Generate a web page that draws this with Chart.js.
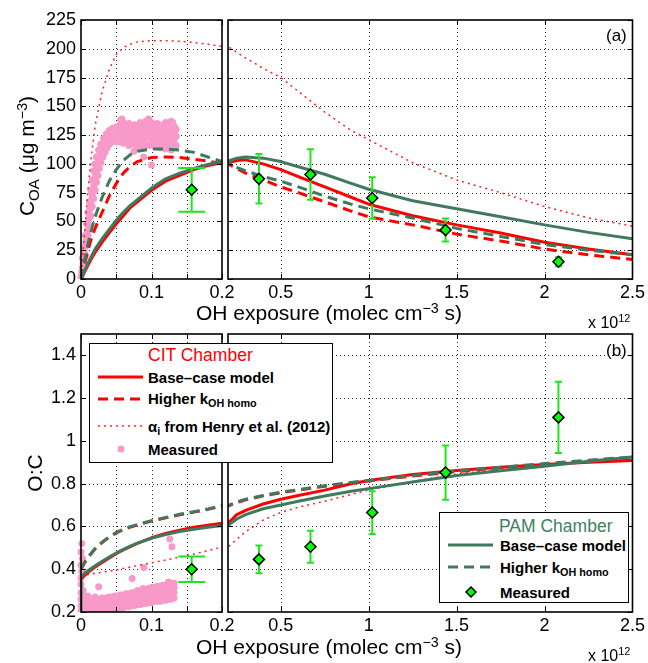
<!DOCTYPE html>
<html>
<head>
<meta charset="utf-8">
<script src="https://cdn.jsdelivr.net/npm/chart.js@4.4.0/dist/chart.umd.min.js"></script>
<style>
  html, body { margin: 0; padding: 0; background: #fff; }
  #fig { position: relative; width: 648px; height: 663px; overflow: hidden;
         font-family: 'Liberation Sans', Arial, Helvetica, sans-serif; color: #000; }
  #fig canvas { position: absolute; left: 0; top: 0; }
  .t { position: absolute; white-space: nowrap; line-height: 1; }
  .lg { position: absolute; background: #fff; border: 1.5px solid #000; box-sizing: border-box; }
  .b { font-weight: bold; font-size: 15px; }
  .lt { font-size: 17.5px; }
  .sb { font-size: 0.72em; position: relative; top: 0.32em; }
  .sp { font-size: 0.68em; position: relative; top: -0.5em; }
  svg.s { position: absolute; overflow: visible; }
</style>
</head>
<body>
<div id="fig">
  <canvas id="aLeft" width="648" height="663"></canvas>
  <canvas id="aRight" width="648" height="663"></canvas>
  <canvas id="bLeft" width="648" height="663"></canvas>
  <canvas id="bRight" width="648" height="663"></canvas>

  <!-- axis titles -->
  <div class="t" style="font-size:21px;left:25.5px;top:156px;transform:translate(-50%,-50%) rotate(-90deg);">C<span class="sb">OA</span> (&mu;g m<span class="sp">&minus;3</span>)</div>
  <div class="t" style="font-size:21px;left:33.5px;top:473px;transform:translate(-50%,-50%) rotate(-90deg);">O:C</div>
  <div class="t" style="font-size:21px;left:329px;top:302px;transform:translateX(-50%);">OH exposure (molec cm<span class="sp">&minus;3</span> s)</div>
  <div class="t" style="font-size:21px;left:329px;top:636px;transform:translateX(-50%);">OH exposure (molec cm<span class="sp">&minus;3</span> s)</div>
  <div class="t" style="font-size:16px;left:588px;top:314.5px;">x 10<span class="sp">12</span></div>
  <div class="t" style="font-size:16px;left:588px;top:647.5px;">x 10<span class="sp">12</span></div>
  <div class="t" style="font-size:17px;left:606px;top:27px;">(a)</div>
  <div class="t" style="font-size:17px;left:606px;top:342px;">(b)</div>

  <!-- CIT chamber legend -->
  <div class="lg" style="left:89px;top:343px;width:244px;height:120px;"></div>
  <div class="t lt" style="left:148px;top:346.5px;color:#ff0000;">CIT Chamber</div>
  <svg class="s" style="left:98px;top:372px" width="45" height="10"><line x1="0" y1="5" x2="45" y2="5" stroke="#ff0000" stroke-width="3"/></svg>
  <svg class="s" style="left:98px;top:394px" width="45" height="10"><line x1="0" y1="5" x2="45" y2="5" stroke="#ff0000" stroke-width="3" stroke-dasharray="10 6"/></svg>
  <svg class="s" style="left:98px;top:421px" width="45" height="10"><line x1="0" y1="5" x2="45" y2="5" stroke="#ff2020" stroke-width="1.5" stroke-dasharray="2 4"/></svg>
  <svg class="s" style="left:116px;top:444px" width="10" height="10"><circle cx="5" cy="5" r="3.5" fill="#f799c9"/></svg>
  <div class="t b" style="left:148px;top:369.7px;">Base&ndash;case model</div>
  <div class="t b" style="left:148px;top:390.7px;">Higher k<span class="sb">OH homo</span></div>
  <div class="t b" style="left:148px;top:418.7px;">&alpha;<span class="sb">i</span> from Henry et al. (2012)</div>
  <div class="t b" style="left:148px;top:441.7px;">Measured</div>

  <!-- PAM chamber legend -->
  <div class="lg" style="left:439px;top:512px;width:190px;height:91px;"></div>
  <div class="t lt" style="left:499px;top:517.5px;color:#3f7f62;">PAM Chamber</div>
  <svg class="s" style="left:448px;top:540px" width="45" height="10"><line x1="0" y1="5" x2="45" y2="5" stroke="#3f7a5f" stroke-width="3"/></svg>
  <svg class="s" style="left:448px;top:562px" width="45" height="10"><line x1="0" y1="5" x2="45" y2="5" stroke="#3f7a5f" stroke-width="3" stroke-dasharray="10 6"/></svg>
  <svg class="s" style="left:465px;top:586px" width="12" height="12"><polygon points="6,1 11,6 6,11 1,6" fill="#00ff00" stroke="#000" stroke-width="1.5"/></svg>
  <div class="t b" style="left:500px;top:537.7px;">Base&ndash;case model</div>
  <div class="t b" style="left:500px;top:559.7px;">Higher k<span class="sb">OH homo</span></div>
  <div class="t b" style="left:500px;top:584.7px;">Measured</div>
</div>

<script>
// OH exposure grid of the model runs, in units of 1e12 molec cm^-3 s
const ohGrid = [0, 0, 0.005, 0.01, 0.015, 0.02, 0.03, 0.04, 0.05, 0.06, 0.07, 0.08,
  0.1, 0.12, 0.14, 0.16, 0.18, 0.2, 0.25, 0.3, 0.4, 0.5, 0.6, 0.75, 0.9, 1.0,
  1.25, 1.5, 1.75, 2.0, 2.25, 2.5];

// Organic aerosol mass, C_OA (ug m^-3)
const coaCitBase  = [0, 0, 6, 12, 18, 23, 32, 40, 48, 55, 62, 67, 77, 85, 90, 95, 98.5, 101,
  103, 103.5, 100, 95, 89, 80, 71, 65, 55, 47, 40, 32, 26, 21];
const coaCitHigh  = [0, 0, 13, 25, 36, 44, 58, 72, 83, 92, 98, 102, 105.5, 106, 105.5, 104, 102.5, 100,
  96, 92, 86, 80, 75, 67, 59, 54, 47, 39, 33, 26, 21, 17];
const coaCitHenry = [0, 0, 40, 78, 108, 133, 163, 182, 195, 201, 204, 206, 207, 207, 206.5, 205.5, 204, 202,
  197, 192, 183, 175, 163, 145, 129, 121, 101, 86, 75, 63, 53, 46];
const coaPamBase  = [0, 0, 7, 14, 20, 26, 35, 43, 51, 58, 64, 69, 79, 87, 92, 96, 99.5, 102.5,
  105, 106, 105, 102, 97.5, 91, 83, 78, 68, 61, 54, 47, 40.5, 35];
const coaPamHigh  = [0, 0, 16, 31, 43, 54, 71, 85, 95, 103, 108, 111, 113, 113, 112, 110, 106, 102,
  97, 94, 89, 85, 80, 72, 65, 61, 53, 44, 37, 30, 25, 21];

// O:C ratio
const ocCitBase  = [0.355, 0.355, 0.37, 0.385, 0.398, 0.41, 0.432, 0.453, 0.473, 0.49, 0.506, 0.521,
  0.547, 0.567, 0.583, 0.596, 0.606, 0.615, 0.655, 0.675, 0.705, 0.727, 0.745, 0.77, 0.80, 0.815,
  0.843, 0.862, 0.877, 0.89, 0.90, 0.908];
const ocCitHigh  = [0.40, 0.40, 0.43, 0.455, 0.475, 0.495, 0.525, 0.55, 0.57, 0.585, 0.597, 0.607,
  0.625, 0.64, 0.655, 0.667, 0.68, 0.695, 0.712, 0.725, 0.743, 0.758, 0.77, 0.788, 0.804, 0.813,
  0.836, 0.857, 0.874, 0.89, 0.905, 0.918];
const ocCitHenry = [0.37, 0.37, 0.372, 0.375, 0.378, 0.381, 0.386, 0.391, 0.397, 0.404, 0.41, 0.417,
  0.43, 0.443, 0.457, 0.471, 0.487, 0.503, 0.54, 0.575, 0.63, 0.665, 0.69, 0.718, 0.75, 0.77,
  0.81, 0.845, 0.867, 0.887, 0.9, 0.912];
const ocPamBase  = [0.2, 0.365, 0.38, 0.393, 0.405, 0.416, 0.437, 0.457, 0.476, 0.493, 0.508, 0.522,
  0.545, 0.562, 0.576, 0.587, 0.596, 0.605, 0.635, 0.655, 0.683, 0.70, 0.718, 0.742, 0.765, 0.777,
  0.808, 0.838, 0.86, 0.882, 0.905, 0.925];
const ocPamHigh  = [0.40, 0.40, 0.432, 0.457, 0.477, 0.497, 0.527, 0.552, 0.572, 0.587, 0.599, 0.609,
  0.627, 0.642, 0.657, 0.669, 0.682, 0.697, 0.715, 0.727, 0.745, 0.76, 0.772, 0.79, 0.806, 0.815,
  0.838, 0.86, 0.877, 0.894, 0.91, 0.925];

// PAM chamber measurements with uncertainties
const pamExposure = [0.157, 0.376, 0.669, 1.02, 1.437, 2.079];
const pamCoa      = [77.5, 87, 90.8, 70.3, 42.5, 15];
const pamCoaErr   = [19, 21.5, 22, 18, 10, 4];
const pamOc       = [0.40, 0.446, 0.505, 0.665, 0.852, 1.11];
const pamOcErr    = [0.06, 0.065, 0.075, 0.1, 0.127, 0.167];

// CIT chamber measurements: [OH exposure, C_OA]
const citCoa = [
  [0.000,2],[0.001,6],[0.002,10],[0.003,14],[0.004,19],[0.005,23],[0.006,28],[0.007,33],[0.008,37],
  [0.009,42],[0.010,47],[0.011,52],[0.012,56],[0.013,61],[0.014,65],[0.015,69],[0.016,73],[0.017,77],
  [0.018,81],[0.019,85],[0.020,88],[0.021,91],[0.022,94],[0.023,97],[0.024,100],[0.025,103],[0.027,107],
  [0.029,110],[0.031,113],[0.033,116],[0.035,118],[0.037,120],[0.040,122],[0.043,124],[0.046,125],[0.050,126],
  [0.004,12],[0.006,20],[0.008,30],[0.010,38],[0.012,46],[0.014,55],[0.016,63],[0.018,70],[0.020,77],
  [0.022,84],[0.024,90],[0.026,96],[0.028,101],[0.031,106],[0.034,110],[0.037,114],[0.040,117],[0.044,119],[0.048,120],
  [0.002,18],[0.004,28],[0.006,38],[0.008,48],[0.010,58],[0.012,67],[0.014,77],[0.016,86],[0.018,94],
  [0.020,100],[0.022,106],[0.025,112],[0.028,117],[0.032,122],[0.036,126],[0.040,129],[0.045,131],[0.050,132],
  [0.052,119],[0.052,126],[0.052,132],
  [0.056,121],[0.056,128],[0.056,134],[0.056,138],
  [0.060,118],[0.060,125],[0.060,131],[0.060,136],
  [0.064,120],[0.064,127],[0.064,133],
  [0.068,116],[0.068,123],[0.068,130],[0.068,135],
  [0.072,119],[0.072,126],[0.072,132],
  [0.076,117],[0.076,124],[0.076,129],[0.076,134],
  [0.080,115],[0.080,122],[0.080,128],[0.080,133],
  [0.084,118],[0.084,125],[0.084,131],[0.084,136],
  [0.088,114],[0.088,121],[0.088,127],[0.088,134],
  [0.092,117],[0.092,124],[0.092,130],[0.092,137],
  [0.096,116],[0.096,123],[0.096,129],[0.096,135],[0.096,139],
  [0.100,118],[0.100,125],[0.100,131],[0.100,136],
  [0.104,115],[0.104,122],[0.104,128],[0.104,134],
  [0.108,117],[0.108,124],[0.108,130],[0.108,135],
  [0.112,114],[0.112,121],[0.112,127],[0.112,133],
  [0.116,116],[0.116,123],[0.116,129],[0.116,134],
  [0.120,113],[0.120,120],[0.120,126],[0.120,131],[0.120,136],
  [0.124,115],[0.124,122],[0.124,128],[0.124,133],
  [0.128,112],[0.128,119],[0.128,125],[0.128,131],[0.128,137],
  [0.132,114],[0.132,121],[0.132,127],[0.132,133],
  [0.135,116],[0.135,124],[0.135,130],
  [0.058,139],[0.075,111],[0.089,106],[0.100,99],[0.130,136]
];

// CIT chamber measurements: [OH exposure, O:C]
const citOc = [
  [0.000,0.205],[0.000,0.23],[0.000,0.26],[0.000,0.29],[0.000,0.33],[0.000,0.36],
  [0.003,0.21],[0.003,0.24],[0.003,0.27],[0.003,0.30],
  [0.006,0.205],[0.006,0.225],[0.006,0.25],[0.006,0.275],
  [0.009,0.21],[0.009,0.235],[0.009,0.26],[0.010,0.275],
  [0.012,0.205],[0.012,0.225],[0.012,0.25],
  [0.015,0.21],[0.015,0.235],[0.015,0.255],
  [0.018,0.205],[0.018,0.225],[0.018,0.25],
  [0.021,0.21],[0.021,0.23],[0.021,0.255],[0.020,0.27],
  [0.024,0.205],[0.024,0.225],[0.024,0.245],[0.024,0.26],
  [0.027,0.21],[0.027,0.235],[0.027,0.255],
  [0.030,0.205],[0.030,0.225],[0.030,0.25],[0.030,0.265],
  [0.033,0.21],[0.033,0.235],[0.033,0.26],
  [0.036,0.21],[0.036,0.23],[0.036,0.25],[0.036,0.265],
  [0.040,0.215],[0.040,0.235],[0.040,0.26],[0.040,0.27],
  [0.044,0.21],[0.044,0.23],[0.044,0.255],[0.044,0.27],
  [0.048,0.215],[0.048,0.24],[0.048,0.26],[0.048,0.275],
  [0.052,0.215],[0.052,0.235],[0.052,0.255],[0.052,0.275],
  [0.056,0.22],[0.056,0.24],[0.056,0.265],[0.056,0.28],
  [0.060,0.22],[0.060,0.245],[0.060,0.265],[0.060,0.28],
  [0.064,0.225],[0.064,0.245],[0.064,0.27],[0.064,0.285],
  [0.068,0.225],[0.068,0.25],[0.068,0.27],[0.068,0.285],
  [0.072,0.23],[0.072,0.25],[0.072,0.275],[0.072,0.29],
  [0.076,0.23],[0.076,0.255],[0.076,0.275],[0.076,0.29],
  [0.080,0.235],[0.080,0.26],[0.080,0.28],[0.080,0.30],
  [0.084,0.235],[0.084,0.255],[0.084,0.28],[0.084,0.295],
  [0.088,0.24],[0.088,0.26],[0.088,0.285],[0.088,0.31],
  [0.092,0.24],[0.092,0.265],[0.092,0.29],[0.092,0.305],
  [0.096,0.245],[0.096,0.265],[0.096,0.29],[0.096,0.31],
  [0.100,0.245],[0.100,0.27],[0.100,0.295],[0.100,0.315],
  [0.104,0.25],[0.104,0.27],[0.104,0.295],[0.104,0.315],
  [0.108,0.25],[0.108,0.275],[0.108,0.30],[0.108,0.32],
  [0.112,0.25],[0.112,0.275],[0.112,0.30],[0.112,0.32],
  [0.116,0.255],[0.116,0.28],[0.116,0.305],[0.116,0.325],
  [0.120,0.255],[0.120,0.28],[0.120,0.305],[0.120,0.325],
  [0.124,0.26],[0.124,0.285],[0.124,0.31],[0.124,0.34],
  [0.128,0.26],[0.128,0.285],[0.128,0.31],[0.128,0.335],
  [0.132,0.265],[0.132,0.29],[0.132,0.315],[0.132,0.335],
  [0.001,0.52],[0.000,0.48],[0.002,0.45],[0.000,0.42],[0.001,0.39],
  [0.025,0.318],[0.0725,0.357],[0.089,0.408],[0.126,0.541],[0.129,0.505]
];

// Axis ticks and labels
const xTicksLeft   = [0, 0.05, 0.1, 0.15, 0.2];
const xLabelsLeft  = ['0', '', '0.1', '', '0.2'];
const xTicksRight  = [0.5, 1, 1.5, 2, 2.5];
const xLabelsRight = ['0.5', '1', '1.5', '2', '2.5'];
const yTicksCoa    = [0, 25, 50, 75, 100, 125, 150, 175, 200, 225];
const yLabelsCoa   = ['0', '25', '50', '75', '100', '125', '150', '175', '200', '225'];
const yTicksOc     = [0.2, 0.4, 0.6, 0.8, 1.0, 1.2, 1.4];
const yLabelsOc    = ['0.2', '0.4', '0.6', '0.8', '1', '1.2', '1.4'];

const RED = '#ff0000';
const GREEN = '#3f7a5f';
const PINK = '#f799c9';
const BAR_GREEN = '#1ee61e';

Chart.defaults.font.family = "'Liberation Sans', Arial, Helvetica, sans-serif";
Chart.defaults.font.size = 18;
Chart.defaults.color = '#000';

const zip = (xs, ys) => xs.map((x, i) => ({ x, y: ys[i] }));
const fromPairs = arr => arr.map(p => ({ x: p[0], y: p[1] }));

function lineSet(data, color, width, dash) {
  return { data, showLine: true, borderColor: color, borderWidth: width, borderDash: dash,
           pointRadius: 0, pointHoverRadius: 0, fill: false, tension: 0, clip: 0,
           borderCapStyle: 'butt', borderJoinStyle: 'round' };
}
function diamondSet(data) {
  return { data, showLine: false, pointStyle: 'rectRot', pointRadius: 5.5,
           backgroundColor: '#00ff00', borderColor: '#000', borderWidth: 1.5, clip: 0 };
}
function dotSet(data) {
  return { data, showLine: false, pointStyle: 'circle', pointRadius: 3.5, borderWidth: 0,
           backgroundColor: PINK, borderColor: PINK, clip: { left: 4, top: 0, right: 0, bottom: 0 } };
}

// dotted grid underneath, box with inward ticks on top
const framePlugin = {
  id: 'frame',
  beforeDatasetsDraw(chart) {
    const { ctx, chartArea: a, scales: { x, y } } = chart;
    ctx.save();
    ctx.strokeStyle = 'rgba(0,0,0,0.85)';
    ctx.lineWidth = 1;
    ctx.setLineDash([1, 3]);
    ctx.beginPath();
    x.ticks.forEach(t => {
      const px = Math.round(x.getPixelForValue(t.value)) + 0.5;
      if (px > a.left + 2 && px < a.right - 2) { ctx.moveTo(px, a.top); ctx.lineTo(px, a.bottom); }
    });
    y.ticks.forEach(t => {
      const py = Math.round(y.getPixelForValue(t.value)) + 0.5;
      if (py > a.top + 2 && py < a.bottom - 2) { ctx.moveTo(a.left, py); ctx.lineTo(a.right, py); }
    });
    ctx.stroke();
    ctx.restore();
  },
  afterDatasetsDraw(chart) {
    const { ctx, chartArea: a, scales: { x, y } } = chart;
    const len = 5;
    ctx.save();
    ctx.setLineDash([]);
    ctx.strokeStyle = '#000';
    ctx.lineWidth = 1;
    ctx.beginPath();
    x.ticks.forEach(t => {
      const px = Math.round(x.getPixelForValue(t.value)) + 0.5;
      ctx.moveTo(px, a.bottom); ctx.lineTo(px, a.bottom - len);
      ctx.moveTo(px, a.top); ctx.lineTo(px, a.top + len);
    });
    y.ticks.forEach(t => {
      const py = Math.round(y.getPixelForValue(t.value)) + 0.5;
      ctx.moveTo(a.left, py); ctx.lineTo(a.left + len, py);
      ctx.moveTo(a.right, py); ctx.lineTo(a.right - len, py);
    });
    ctx.stroke();
    ctx.lineWidth = 1.6;
    ctx.strokeRect(a.left, a.top, a.right - a.left, a.bottom - a.top);
    ctx.restore();
  }
};

function errorBars(xs, ys, errs, cap) {
  return {
    id: 'errbars',
    beforeDatasetDraw(chart, args) {
      if (args.index !== 0) return;
      const { ctx, chartArea: a, scales: { x, y } } = chart;
      ctx.save();
      ctx.beginPath();
      ctx.rect(a.left, a.top, a.right - a.left, a.bottom - a.top);
      ctx.clip();
      ctx.strokeStyle = BAR_GREEN;
      ctx.lineWidth = 2;
      ctx.setLineDash([]);
      xs.forEach((xv, i) => {
        const px = x.getPixelForValue(xv);
        const lo = y.getPixelForValue(ys[i] - errs[i]);
        const hi = y.getPixelForValue(ys[i] + errs[i]);
        ctx.beginPath();
        ctx.moveTo(px, lo); ctx.lineTo(px, hi);
        ctx.moveTo(px - cap, lo); ctx.lineTo(px + cap, lo);
        ctx.moveTo(px - cap, hi); ctx.lineTo(px + cap, hi);
        ctx.stroke();
      });
      ctx.restore();
    }
  };
}

const W = 648, H = 663, XAXIS_H = 40;

function panel(id, o) {
  return new Chart(document.getElementById(id), {
    type: 'scatter',
    data: { datasets: o.datasets },
    options: {
      responsive: false,
      animation: false,
      devicePixelRatio: 1,
      events: [],
      layout: { padding: { left: 0, top: o.area.top, right: W - o.area.right, bottom: H - o.area.bottom - XAXIS_H } },
      plugins: { legend: { display: false }, tooltip: { enabled: false } },
      scales: {
        x: {
          type: 'linear', min: o.xMin, max: o.xMax,
          grid: { display: false, drawTicks: false }, border: { display: false },
          afterBuildTicks: s => { s.ticks = o.xTicks.map(v => ({ value: v })); },
          afterFit: s => { s.height = XAXIS_H; },
          ticks: { padding: 3, maxRotation: 0, autoSkip: false, callback: (v, i) => o.xLabels[i] }
        },
        y: {
          type: 'linear', min: o.yMin, max: o.yMax,
          grid: { display: false, drawTicks: false }, border: { display: false },
          afterBuildTicks: s => { s.ticks = o.yTicks.map(v => ({ value: v })); },
          afterFit: s => { s.width = o.area.left; },
          ticks: { display: o.yLabels !== null, padding: 5, autoSkip: false,
                   callback: (v, i) => (o.yLabels ? o.yLabels[i] : '') }
        }
      }
    },
    plugins: [framePlugin, errorBars(pamExposure, o.errY, o.errE, o.cap)]
  });
}

function coaSets(withMeasured) {
  const sets = [
    diamondSet(zip(pamExposure, pamCoa)),
    lineSet(zip(ohGrid, coaPamBase), GREEN, 3, []),
    lineSet(zip(ohGrid, coaPamHigh), GREEN, 3, [10, 6]),
    lineSet(zip(ohGrid, coaCitBase), RED, 3, []),
    lineSet(zip(ohGrid, coaCitHigh), RED, 3, [10, 6]),
    lineSet(zip(ohGrid, coaCitHenry), '#ff2020', 1.5, [2, 4])
  ];
  if (withMeasured) sets.push(dotSet(fromPairs(citCoa)));
  return sets;
}
function ocSets(withMeasured) {
  const sets = [
    diamondSet(zip(pamExposure, pamOc)),
    lineSet(zip(ohGrid, ocPamBase), GREEN, 3, []),
    lineSet(zip(ohGrid, ocPamHigh), GREEN, 3, [10, 6]),
    lineSet(zip(ohGrid, ocCitBase), RED, 3, []),
    lineSet(zip(ohGrid, ocCitHigh), RED, 3, [10, 6]),
    lineSet(zip(ohGrid, ocCitHenry), '#ff2020', 1.5, [2, 4])
  ];
  if (withMeasured) sets.push(dotSet(fromPairs(citOc)));
  return sets;
}

// (a) organic aerosol mass
panel('aLeft', {
  area: { left: 81, right: 222, top: 20, bottom: 279 },
  xMin: 0, xMax: 0.2, xTicks: xTicksLeft, xLabels: xLabelsLeft,
  yMin: 0, yMax: 225, yTicks: yTicksCoa, yLabels: yLabelsCoa,
  datasets: coaSets(true), errY: pamCoa, errE: pamCoaErr, cap: 13.5
});
panel('aRight', {
  area: { left: 228, right: 635, top: 20, bottom: 279 },
  xMin: 0.2, xMax: 2.5, xTicks: xTicksRight, xLabels: xLabelsRight,
  yMin: 0, yMax: 225, yTicks: yTicksCoa, yLabels: null,
  datasets: coaSets(false), errY: pamCoa, errE: pamCoaErr, cap: 3.5
});

// (b) O:C ratio
panel('bLeft', {
  area: { left: 81, right: 222, top: 334, bottom: 612 },
  xMin: 0, xMax: 0.2, xTicks: xTicksLeft, xLabels: xLabelsLeft,
  yMin: 0.2, yMax: 1.5, yTicks: yTicksOc, yLabels: yLabelsOc,
  datasets: ocSets(true), errY: pamOc, errE: pamOcErr, cap: 13.5
});
panel('bRight', {
  area: { left: 228, right: 635, top: 334, bottom: 612 },
  xMin: 0.2, xMax: 2.5, xTicks: xTicksRight, xLabels: xLabelsRight,
  yMin: 0.2, yMax: 1.5, yTicks: yTicksOc, yLabels: null,
  datasets: ocSets(false), errY: pamOc, errE: pamOcErr, cap: 3.5
});
</script>
</body>
</html>
